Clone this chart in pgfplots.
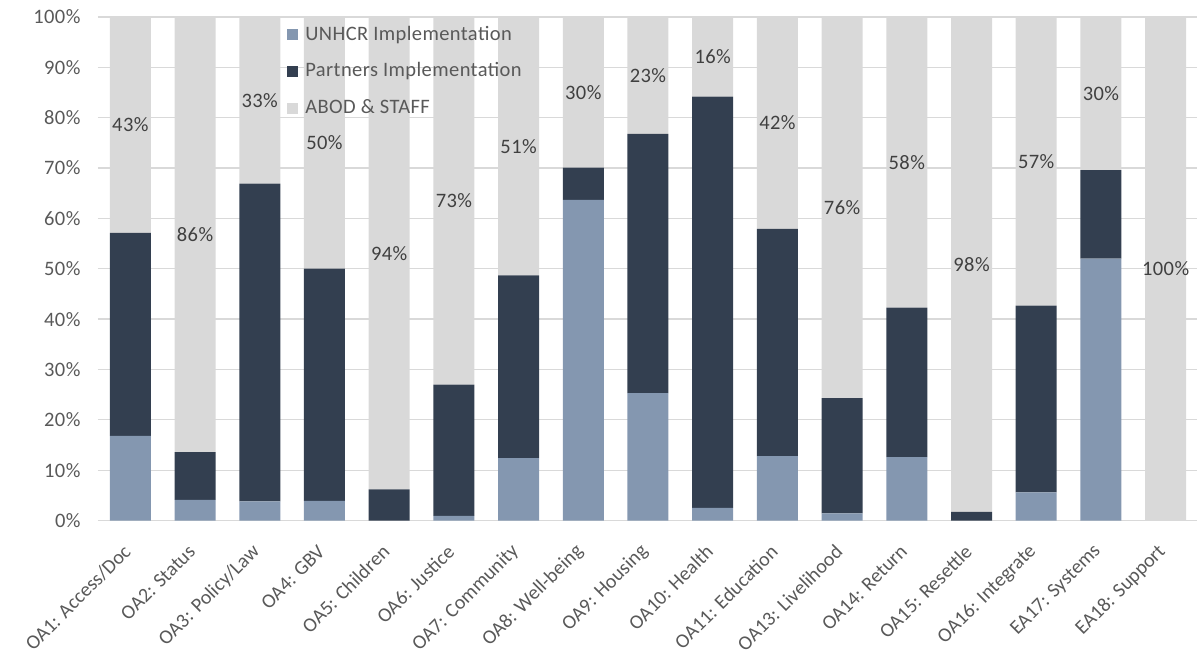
\documentclass[border=0pt]{standalone}
\usepackage{pgfplots}
\pgfplotsset{compat=1.18}
\usepackage{fontspec}
\setmainfont{Carlito}[LetterSpace=2]
\newfontfamily\xfont{Carlito}
\definecolor{unhcr}{HTML}{8497B0}
\definecolor{partner}{HTML}{333F50}
\definecolor{abod}{HTML}{D9D9D9}
\definecolor{gridc}{HTML}{D9D9D9}
\definecolor{txt}{HTML}{595959}
\definecolor{lbl}{HTML}{404040}

\pgfplotstableread{
x unhcr partner abod
0 16.8 40.3 42.9
1 4.1 9.5 86.4
2 3.8 63.1 33.1
3 3.9 46.1 50.0
4 0 6.2 93.8
5 0.9 26.1 73.0
6 12.4 36.3 51.3
7 63.7 6.4 29.9
8 25.3 51.5 23.2
9 2.5 81.7 15.8
10 12.8 45.1 42.1
11 1.4 22.9 75.7
12 12.6 29.7 57.7
13 0 1.7 98.3
14 5.6 37.1 57.3
15 52.0 17.6 30.4
16 0 0 100
}\datatable

\pgfplotstableread{
x y lab
0 78.55 43
1 56.8 86
2 83.45 33
3 75 50
4 53.1 94
5 63.5 73
6 74.35 51
7 85.05 30
8 88.4 23
9 92.1 16
10 78.95 42
11 62.15 76
12 71.15 58
13 50.85 98
14 71.35 57
15 84.8 30
16 50 100
}\labtable

\newcommand{\chartfont}{\fontsize{20.5}{24}\selectfont}
\newcommand{\xlabfont}{\xfont\fontsize{20}{24}\selectfont}

\begin{document}
\begin{tikzpicture}
\useasboundingbox (-98pt,-140.5pt) rectangle (1099pt,520.5pt);
\begin{axis}[
  at={(0,0)}, anchor=south west, scale only axis,
  width=1100pt, height=503.5pt,
  ybar stacked, bar width=41pt,
  xmin=-0.5, xmax=16.5, ymin=0, ymax=100,
  xtick={0,...,16},
  xticklabels={OA1: Access/Doc, OA2: Status, OA3: Policy/Law, OA4: GBV, OA5: Children, OA6: Justice, OA7: Community, OA8: Well-being, OA9: Housing, OA10: Health, OA11: Education, OA13: Livelihood, OA14: Return, OA15: Resettle, OA16: Integrate, EA17: Systems, EA18: Support},
  ytick={0,10,...,100},
  yticklabel={\pgfmathprintnumber{\tick}\%},
  /pgf/number format/assume math mode=true,
  ymajorgrids, grid style={gridc, line width=1.3pt},
  axis x line*=bottom, axis y line*=left,
  x axis line style={gridc, line width=1.3pt, -},
  y axis line style={draw=none},
  major tick length=0pt,
  tick label style={font=\chartfont, text=txt},
  yticklabel style={anchor=east, xshift=-14pt},
  xticklabel style={font=\xlabfont, inner sep=0pt, xshift=-3pt, yshift=-28pt, rotate=45, anchor=east},
  legend style={at={(0.172,0.984)}, anchor=north west, draw=none, fill=none,
    font=\chartfont, text=txt, row sep=17.7pt, inner sep=0pt,
    nodes={inner sep=0pt, text height=15pt, text depth=4pt},
    /tikz/every odd column/.style={column sep=7pt}},
  legend cell align=left,
]
\addplot[fill=unhcr, draw=none, legend image code/.code={\fill[unhcr] (0pt,-5.5pt) rectangle (11pt,5.5pt);}] table[x=x, y=unhcr] {\datatable};
\addplot[fill=partner, draw=none, legend image code/.code={\fill[partner] (0pt,-5.5pt) rectangle (11pt,5.5pt);}] table[x=x, y=partner] {\datatable};
\addplot[fill=abod, draw=none, legend image code/.code={\fill[abod] (0pt,-5.5pt) rectangle (11pt,5.5pt);}] table[x=x, y=abod] {\datatable};
\legend{UNHCR Implementation, Partners Implementation, ABOD \& STAFF}
\end{axis}
\begin{axis}[
  at={(0,0)}, anchor=south west, scale only axis,
  width=1100pt, height=503.5pt,
  xmin=-0.5, xmax=16.5, ymin=0, ymax=100,
  hide axis,
]
\addplot[draw=none, mark=none, point meta=explicit symbolic,
  nodes near coords={\pgfplotspointmeta\%},
  every node near coord/.style={anchor=center, font=\chartfont, text=lbl}]
  table[x=x, y=y, meta=lab] {\labtable};
\end{axis}
\end{tikzpicture}
\end{document}
